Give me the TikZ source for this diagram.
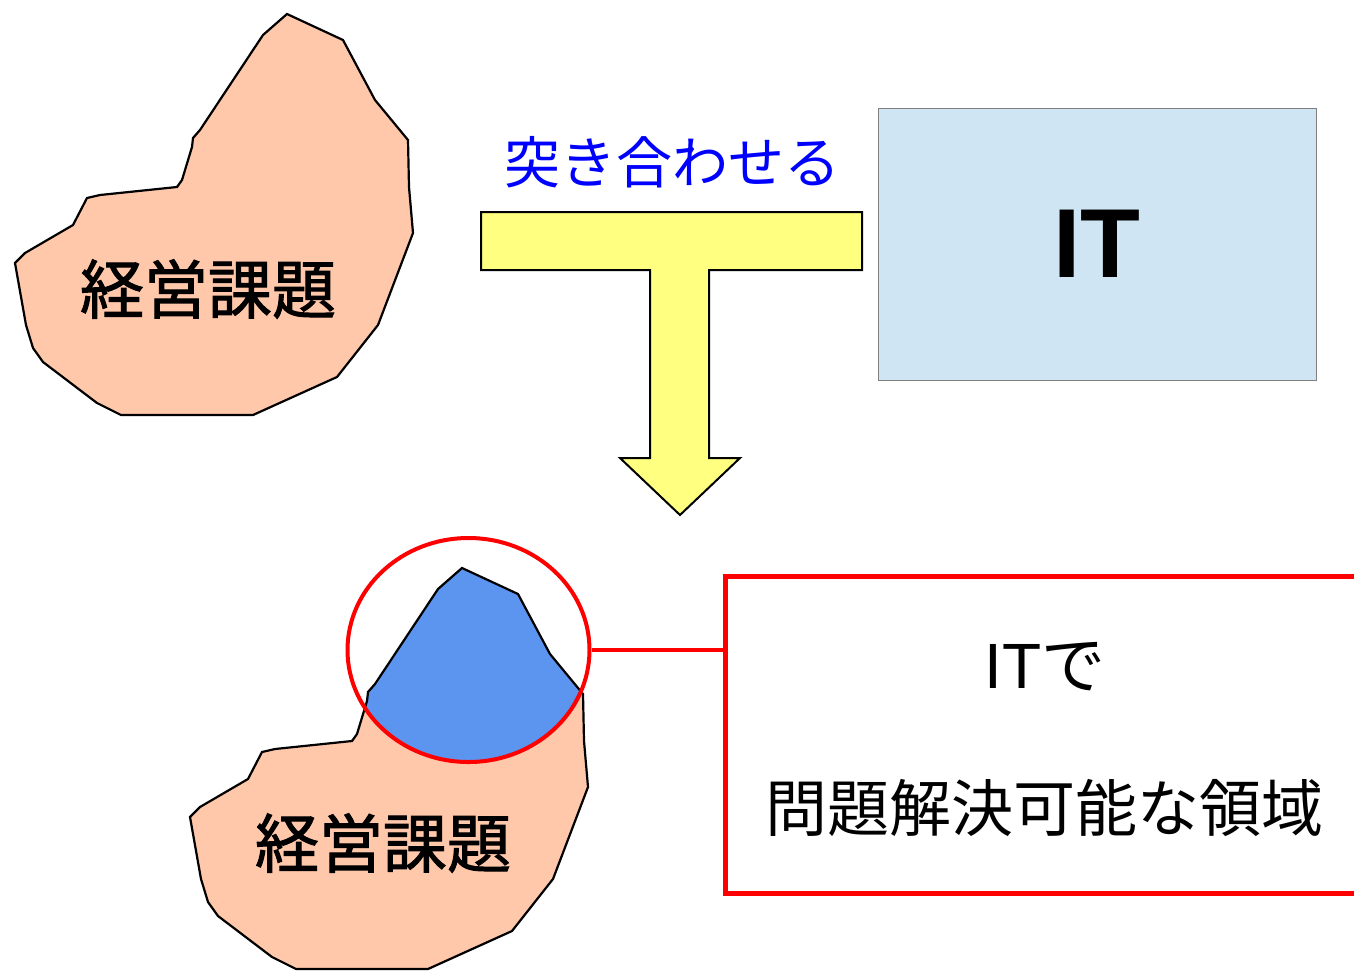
\documentclass[tikz,border=0pt]{standalone}
\usepackage{fontspec}
\setmainfont{Liberation Sans}
\newfontfamily\jp{Noto Sans CJK JP}
\newfontfamily\jpb[FakeBold=1.6]{Noto Sans CJK JP}
\usetikzlibrary{shapes.geometric}
\definecolor{peach}{HTML}{FFC8AA}
\definecolor{skyblue}{HTML}{5B95F0}
\definecolor{ayellow}{HTML}{FFFF80}
\definecolor{itfill}{HTML}{CFE5F3}
\definecolor{itborder}{HTML}{7F7F7F}
\definecolor{txtblue}{HTML}{0000FF}
\tikzset{
  outline/.style={draw=black, line width=2.2pt, line join=miter},
  jptext/.style={font=\jp\fontsize{62}{70}\selectfont, inner sep=0pt},
  kadaitext/.style={font=\jpb\fontsize{64}{70}\selectfont, inner sep=0pt},
}
\begin{document}
\begin{tikzpicture}[x=1pt,y=-1pt]
\useasboundingbox (0,0) rectangle (1354,970);
\clip (0,0) rectangle (1354,970);
\fill[white] (0,0) rectangle (1354,970);
\def\kshape{(287,14) -- (343,40) -- (375,100) -- (408,140) -- (409,187) -- (413,233) -- (378,325) -- (337,377) -- (253,415) -- (121,415) -- (97,403) -- (43,362) -- (33,348) -- (26,325) -- (15,263) -- (25,253) -- (73,225) -- (87,198) -- (100,195) -- (177,187) -- (182,180) -- (192,147) -- (193,138) -- (200,130) -- (263,35) -- cycle}
% top shape
\fill[peach] \kshape;
\draw[outline] \kshape;
% bottom shape
\begin{scope}[shift={(175,554)}]
  \fill[peach] \kshape;
\end{scope}
\begin{scope}
  \clip (468.5,650) ellipse [x radius=121, y radius=112];
  \begin{scope}[shift={(175,554)}]
    \fill[skyblue] \kshape;
  \end{scope}
\end{scope}
\begin{scope}[shift={(175,554)}]
  \draw[outline] \kshape;
\end{scope}
% texts on shapes
\node[kadaitext] (kadai1) at (208,289) {経営課題};
\node[kadaitext] (kadai2) at (383,843) {経営課題};
% yellow T arrow
\draw[fill=ayellow, line width=2pt] (481,212) -- (862,212) -- (862,270) -- (709,270) -- (709,458) -- (740,458) -- (680,515) -- (620,458) -- (650,458) -- (650,270) -- (481,270) -- cycle;
\node[inner sep=0pt, text=txtblue, font=\jp\fontsize{56}{60}\selectfont] (awase) at (672,162) {突き合わせる};
% IT box
\node[draw=itborder, fill=itfill, line width=1pt, minimum width=438pt, minimum height=272pt, inner sep=0pt,
      font=\bfseries\fontsize{98}{100}\selectfont] (itbox) at (1097,244) {IT};
% highlight ellipse and explanation box
\node[ellipse, draw=red, line width=4pt, minimum width=242pt, minimum height=224pt, inner sep=0pt] (circ) at (468.5,650) {};
\node[draw=red, line width=5pt, minimum width=660pt, minimum height=317pt, inner sep=0pt] (rbox) at (1055,734.5) {};
\draw[red, line width=4pt] (circ.east) -- (circ.east -| rbox.west);
\node[inner sep=0pt, font=\fontsize{64}{70}\selectfont] (itde) at (1045,667) {IT{\jp で}};
\node[jptext] (ryoiki) at (1044,808) {問題解決可能な領域};
\end{tikzpicture}
\end{document}
